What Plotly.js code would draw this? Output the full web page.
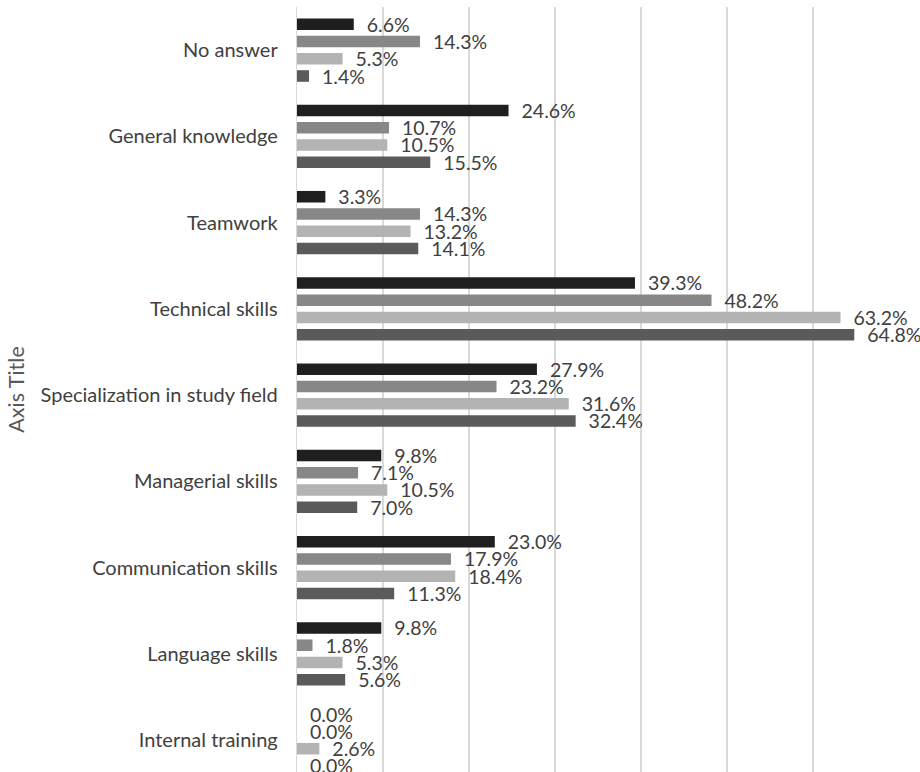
<!DOCTYPE html>
<html>
<head>
<meta charset="utf-8">
<script src="https://cdn.plot.ly/plotly-3.0.1.min.js"></script>
<style>body{margin:0;background:#fff}#chart{width:920px;height:772px}</style>
</head>
<body>
<div id="chart"></div>
<script>
const categories = ["No answer", "General knowledge", "Teamwork", "Technical skills",
  "Specialization in study field", "Managerial skills", "Communication skills",
  "Language skills", "Internal training"];
const seriesA = [6.6, 24.6, 3.3, 39.3, 27.9, 9.8, 23.0, 9.8, 0.0];
const seriesB = [14.3, 10.7, 14.3, 48.2, 23.2, 7.1, 17.9, 1.8, 0.0];
const seriesC = [5.3, 10.5, 13.2, 63.2, 31.6, 10.5, 18.4, 5.3, 2.6];
const seriesD = [1.4, 15.5, 14.1, 64.8, 32.4, 7.0, 11.3, 5.6, 0.0];
const colors = ["#1f1f1f", "#878787", "#b3b3b3", "#5a5a5a"];
const allSeries = [seriesA, seriesB, seriesC, seriesD];

const font = "Lato, 'Liberation Sans', sans-serif";
const traces = allSeries.map((vals, i) => ({
  type: "bar",
  orientation: "h",
  y: categories,
  x: vals,
  marker: {color: colors[i]},
  texttemplate: "\u00a0\u00a0%{x:.1f}%",
  textposition: "outside",
  constraintext: "none",
  cliponaxis: false,
  textfont: {family: font, size: 19.5, color: "#404040"},
  hoverinfo: "skip",
  showlegend: false
}));

const layout = {
  width: 920, height: 772,
  margin: {l: 297, r: 21, t: 7, b: 0, pad: 0},
  paper_bgcolor: "#fff", plot_bgcolor: "#fff",
  barmode: "group",
  bargap: 0.2,
  bargroupgap: 0.33,
  font: {family: font, color: "#404040"},
  xaxis: {
    range: [0, 70], dtick: 10, showticklabels: false,
    showgrid: true, gridcolor: "#d9d9d9", gridwidth: 1.3,
    zeroline: false, showline: false, fixedrange: true
  },
  yaxis: {
    type: "category",
    range: [8.37, -0.5],
    showline: true, linecolor: "#d9d9d9", linewidth: 1.3,
    ticks: "outside", ticklen: 14, tickcolor: "rgba(0,0,0,0)",
    tickfont: {family: font, size: 20, color: "#404040"},
    showgrid: false, zeroline: false,
    title: {text: "Axis Title", font: {family: font, size: 21.5, color: "#595959"}, standoff: 10},
    automargin: false
  }
};
Plotly.newPlot("chart", traces, layout, {staticPlot: true});
</script>
</body>
</html>
